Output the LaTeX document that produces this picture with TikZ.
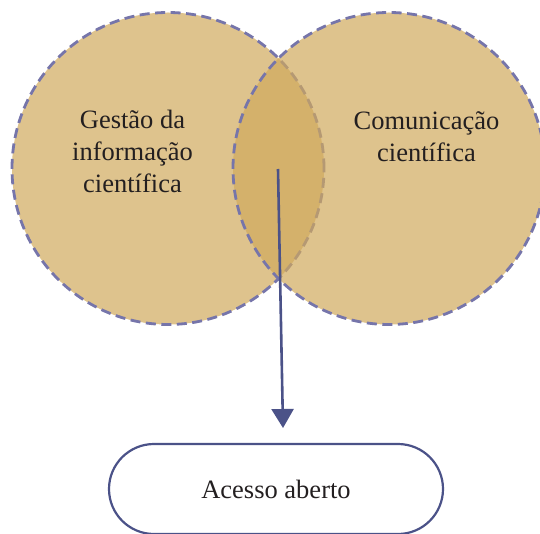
\documentclass[tikz,border=0pt]{standalone}
\usepackage{fontspec}
\setmainfont{Liberation Serif}
\usetikzlibrary{arrows.meta}
\definecolor{circfill}{RGB}{208,169,92}
\definecolor{circline}{RGB}{118,117,170}
\definecolor{navy}{RGB}{75,82,136}
\definecolor{txt}{RGB}{35,31,32}
\begin{document}
\begin{tikzpicture}[x=1pt,y=1pt,
  circ/.style={fill=circfill,fill opacity=0.7,draw=circline,draw opacity=1,line width=2.8pt,dash pattern=on 10pt off 5.5pt},
  lbl/.style={font=\fontsize{26.5}{32}\selectfont,text=txt,align=center,inner sep=0pt},
  endbox/.style={draw=navy,line width=2.2pt,rounded corners=45pt,minimum width=334pt,minimum height=90pt,font=\fontsize{26.5}{32}\selectfont,text=txt,inner sep=0pt},
  link/.style={draw=navy,line width=2.6pt,-{Triangle[width=22pt,length=19pt]}}]
\useasboundingbox (0,0) rectangle (540,533);
\path[circ] (168,364.5) circle[radius=156];
\path[circ] (389,364.5) circle[radius=156];
\node[lbl,anchor=base] (gest) at (132.5,340.5) {Gestão da\\informação\\científica};
\node[lbl,anchor=base] (comu) at (426.5,371) {Comunicação\\científica};
\node[endbox] (acesso) at (276,44) {Acesso aberto};
\coordinate (s) at (278,364);
\coordinate (t) at (283,105);
\draw[link] (s) -- (t);
\end{tikzpicture}
\end{document}
